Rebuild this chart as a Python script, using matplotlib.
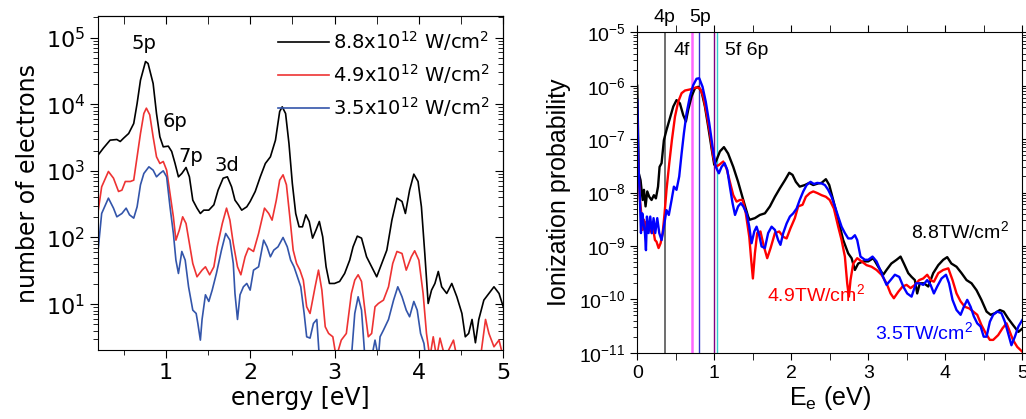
import numpy as np
import matplotlib
matplotlib.use("Agg")
import matplotlib.pyplot as plt
from matplotlib.ticker import LogLocator, MultipleLocator, NullFormatter

# ---- left panel: measured electron spectra (energy in eV, log10 of counts) ----
e_88 = [0.20, 0.26, 0.34, 0.42, 0.46, 0.50, 0.56, 0.62, 0.66, 0.70, 0.76, 0.79, 0.85, 0.89,
        0.93, 0.97, 1.03, 1.07, 1.11, 1.15, 1.19, 1.24, 1.28, 1.32, 1.37, 1.41, 1.45, 1.51,
        1.57, 1.62, 1.68, 1.73, 1.78, 1.82, 1.86, 1.90, 1.96, 2.00, 2.06, 2.12, 2.18, 2.24,
        2.30, 2.35, 2.38, 2.42, 2.46, 2.50, 2.54, 2.58, 2.62, 2.66, 2.70, 2.74, 2.78, 2.82,
        2.86, 2.90, 2.94, 3.00, 3.06, 3.12, 3.18, 3.22, 3.27, 3.32, 3.38, 3.44, 3.50, 3.56,
        3.62, 3.68, 3.74, 3.80, 3.84, 3.89, 3.94, 3.99, 4.03, 4.07, 4.11, 4.15, 4.19, 4.23,
        4.27, 4.33, 4.39, 4.45, 4.51, 4.55, 4.59, 4.63, 4.67, 4.71, 4.77, 4.83, 4.89, 4.95, 5.00]
n_88 = [3.24, 3.34, 3.46, 3.47, 3.44, 3.49, 3.56, 3.71, 4.01, 4.36, 4.64, 4.61, 4.31, 3.86,
        3.51, 3.36, 3.37, 3.29, 3.11, 2.91, 2.96, 3.05, 2.91, 2.56, 2.44, 2.36, 2.41, 2.41,
        2.49, 2.71, 2.89, 2.91, 2.76, 2.56, 2.49, 2.41, 2.46, 2.54, 2.69, 2.91, 3.11, 3.21,
        3.46, 3.89, 3.96, 3.86, 3.41, 2.81, 2.36, 2.16, 2.16, 2.34, 2.24, 1.99, 2.11, 2.24,
        2.01, 1.56, 1.31, 1.31, 1.34, 1.46, 1.66, 1.86, 2.02, 1.99, 1.71, 1.56, 1.41, 1.61,
        1.81, 2.26, 2.59, 2.54, 2.36, 2.71, 2.95, 2.84, 2.46, 1.76, 1.01, 1.21, 1.31, 1.49,
        1.26, 1.16, 1.31, 1.11, 0.86, 0.51, 0.56, 0.77, 0.42, 0.77, 1.06, 1.16, 1.26, 1.16, 0.96]

e_49 = [0.20, 0.24, 0.32, 0.38, 0.44, 0.48, 0.52, 0.58, 0.62, 0.66, 0.70, 0.74, 0.77, 0.81,
        0.85, 0.89, 0.93, 0.97, 1.01, 1.05, 1.09, 1.12, 1.16, 1.20, 1.24, 1.28, 1.32, 1.37,
        1.43, 1.47, 1.52, 1.57, 1.61, 1.67, 1.72, 1.76, 1.80, 1.85, 1.89, 1.94, 1.98, 2.04,
        2.10, 2.17, 2.22, 2.26, 2.31, 2.35, 2.39, 2.43, 2.47, 2.51, 2.55, 2.59, 2.63, 2.67,
        2.71, 2.77, 2.81, 2.85, 2.89, 2.93, 2.98, 3.02, 3.08, 3.14, 3.20, 3.24, 3.28, 3.32,
        3.36, 3.40, 3.44, 3.48, 3.52, 3.58, 3.64, 3.69, 3.74, 3.80, 3.85, 3.91, 3.95, 4.00,
        4.05, 4.09, 4.13, 4.17, 4.21, 4.25, 4.31, 4.41, 4.45, 4.73, 4.79, 4.83, 4.89, 4.95, 5.00]
n_49 = [2.41, 2.76, 2.99, 2.89, 2.69, 2.71, 2.84, 2.84, 2.86, 3.21, 3.56, 3.86, 3.94, 3.84,
        3.51, 3.21, 3.11, 3.14, 3.01, 2.66, 2.31, 1.96, 2.11, 2.31, 2.21, 1.91, 1.61, 1.41,
        1.51, 1.56, 1.44, 1.56, 1.86, 2.21, 2.44, 2.26, 1.91, 1.56, 1.44, 1.71, 1.84, 1.79,
        2.06, 2.44, 2.36, 2.26, 2.56, 2.86, 2.94, 2.79, 2.31, 1.81, 1.61, 1.51, 1.36, 0.96,
        0.86, 1.26, 1.51, 1.21, 0.66, 0.56, 0.51, 0.20, 0.46, 0.56, 1.16, 1.36, 1.44, 1.34,
        0.91, 0.51, 0.56, 0.96, 1.01, 1.06, 1.26, 1.61, 1.79, 1.76, 1.51, 1.71, 1.80, 1.66,
        1.16, 0.56, 0.20, 0.51, 0.20, 0.49, 0.20, 0.46, 0.20, 0.20, 0.77, 0.56, 0.36, 0.46, 0.20]

e_35 = [0.20, 0.24, 0.32, 0.38, 0.42, 0.48, 0.53, 0.57, 0.62, 0.66, 0.70, 0.74, 0.80, 0.85,
        0.89, 0.93, 0.97, 1.01, 1.05, 1.09, 1.12, 1.15, 1.19, 1.23, 1.27, 1.32, 1.36, 1.38,
        1.41, 1.43, 1.47, 1.51, 1.55, 1.60, 1.66, 1.71, 1.76, 1.80, 1.82, 1.85, 1.88, 1.92,
        1.96, 2.00, 2.04, 2.10, 2.16, 2.20, 2.24, 2.28, 2.33, 2.39, 2.44, 2.48, 2.52, 2.56,
        2.60, 2.64, 2.67, 2.71, 2.75, 2.79, 2.82, 3.20, 3.24, 3.28, 3.32, 3.36, 3.44, 3.48,
        3.52, 3.54, 3.58, 3.64, 3.70, 3.75, 3.80, 3.85, 3.89, 3.94, 3.98, 4.02, 4.06, 4.09, 5.00]
n_35 = [1.84, 2.36, 2.59, 2.44, 2.31, 2.36, 2.44, 2.34, 2.29, 2.46, 2.79, 2.96, 3.06, 3.01,
        2.91, 2.96, 3.00, 2.91, 2.46, 2.06, 1.66, 1.46, 1.79, 1.66, 1.26, 0.91, 0.86, 0.71,
        0.46, 0.77, 1.14, 1.04, 1.21, 1.46, 1.81, 2.06, 1.96, 1.61, 1.16, 0.77, 1.14, 1.26,
        1.31, 1.21, 1.51, 1.56, 1.96, 1.86, 1.71, 1.81, 1.86, 2.00, 1.86, 1.66, 1.56, 1.41,
        1.26, 0.86, 0.51, 0.49, 0.71, 0.77, 0.20, 0.20, 0.86, 1.11, 0.91, 0.20, 0.20, 0.46,
        0.20, 0.51, 0.61, 0.77, 1.06, 1.26, 1.11, 0.91, 0.81, 1.04, 0.91, 0.56, 0.41, 0.10, 0.10]

# ---- right panel: calculated ionization probability (log10) ----
eb = [0.0, 0.02, 0.043, 0.07, 0.087, 0.108, 0.13, 0.156, 0.186, 0.216, 0.242, 0.27, 0.29,
      0.316, 0.346, 0.38, 0.424, 0.468, 0.51, 0.554, 0.597, 0.632, 0.662, 0.706, 0.749, 0.792,
      0.835, 0.879, 0.922, 0.965, 1.0, 1.03, 1.074, 1.126, 1.18, 1.247, 1.31, 1.377, 1.44,
      1.46, 1.528, 1.593, 1.658, 1.723, 1.788, 1.853, 1.918, 1.974, 2.017, 2.06, 2.11, 2.177,
      2.234, 2.286, 2.35, 2.394, 2.45, 2.494, 2.545, 2.589, 2.632, 2.675, 2.74, 2.784, 2.827,
      2.87, 2.935, 3.0, 3.065, 3.13, 3.195, 3.238, 3.30, 3.368, 3.42, 3.463, 3.52, 3.563,
      3.606, 3.636, 3.67, 3.723, 3.78, 3.844, 3.91, 3.974, 4.026, 4.08, 4.147, 4.212, 4.277,
      4.342, 4.407, 4.47, 4.537, 4.59, 4.645, 4.71, 4.76, 4.818, 4.88, 4.95, 5.0]
pb = [-6.0, -7.64, -7.77, -8.14, -7.95, -8.26, -7.98, -8.08, -8.14, -8.05, -8.11, -7.89, -7.52,
      -7.45, -7.02, -6.83, -6.61, -6.39, -6.27, -6.33, -6.55, -6.67, -6.45, -6.20, -6.05, -6.02,
      -6.11, -6.39, -6.77, -7.17, -7.48, -7.39, -7.23, -7.15, -7.27, -7.52, -7.80, -8.14, -8.45,
      -8.51, -8.48, -8.42, -8.39, -8.26, -8.08, -7.92, -7.77, -7.63, -7.67, -7.80, -7.89, -7.86,
      -7.82, -7.86, -7.83, -7.82, -7.75, -7.86, -8.14, -8.39, -8.64, -8.89, -9.14, -9.23, -9.45,
      -9.33, -9.29, -9.29, -9.23, -9.39, -9.54, -9.45, -9.33, -9.26, -9.20, -9.33, -9.51, -9.58,
      -9.64, -9.89, -9.70, -9.70, -9.76, -9.51, -9.36, -9.26, -9.21, -9.33, -9.39, -9.51, -9.64,
      -9.70, -9.83, -10.01, -10.23, -10.29, -10.26, -10.20, -10.23, -10.36, -10.48, -10.61, -10.55]

er = [0.0, 0.013, 0.035, 0.056, 0.07, 0.087, 0.104, 0.12, 0.143, 0.165, 0.186, 0.208, 0.23,
      0.25, 0.277, 0.303, 0.33, 0.355, 0.38, 0.416, 0.45, 0.49, 0.532, 0.576, 0.62, 0.684,
      0.727, 0.77, 0.814, 0.857, 0.9, 0.944, 0.987, 1.02, 1.065, 1.117, 1.16, 1.203, 1.247,
      1.29, 1.333, 1.37, 1.41, 1.455, 1.48, 1.502, 1.528, 1.558, 1.6, 1.645, 1.688, 1.732,
      1.788, 1.844, 1.896, 1.94, 1.99, 2.047, 2.09, 2.147, 2.19, 2.242, 2.286, 2.338, 2.394,
      2.45, 2.5, 2.554, 2.61, 2.654, 2.697, 2.727, 2.749, 2.77, 2.805, 2.857, 2.913, 2.978,
      3.043, 3.108, 3.173, 3.238, 3.29, 3.333, 3.39, 3.446, 3.498, 3.55, 3.606, 3.662, 3.714,
      3.766, 3.81, 3.853, 3.91, 3.974, 4.04, 4.095, 4.147, 4.2, 4.255, 4.312, 4.364, 4.416,
      4.47, 4.528, 4.58, 4.623, 4.688, 4.745, 4.797, 4.84, 4.88, 4.935, 5.0]
pr = [-6.70, -7.52, -8.14, -8.45, -8.70, -8.51, -8.70, -8.55, -8.70, -8.64, -8.76, -8.70, -8.89,
      -8.92, -9.04, -8.95, -8.76, -8.39, -7.95, -7.45, -7.02, -6.58, -6.30, -6.14, -6.09, -6.07,
      -6.05, -6.03, -6.05, -6.20, -6.52, -6.89, -7.33, -7.52, -7.48, -7.42, -7.55, -7.80, -8.05,
      -8.17, -8.14, -8.14, -8.39, -8.83, -9.26, -9.61, -9.14, -8.76, -8.73, -9.01, -9.23, -9.04,
      -8.76, -8.73, -8.83, -8.86, -8.67, -8.48, -8.26, -8.23, -8.08, -8.01, -7.98, -8.01, -8.05,
      -8.08, -8.14, -8.30, -8.64, -8.89, -9.20, -9.70, -9.95, -9.64, -9.33, -9.23, -9.29, -9.36,
      -9.39, -9.45, -9.54, -9.70, -9.89, -9.98, -9.86, -9.76, -9.73, -9.79, -9.73, -9.64, -9.61,
      -9.54, -9.64, -9.67, -9.51, -9.45, -9.42, -9.64, -9.89, -10.04, -10.14, -10.17, -10.23, -10.29,
      -10.48, -10.64, -10.76, -10.76, -10.67, -10.54, -10.45, -10.61, -10.76, -10.89, -10.98]

eu = [0.0, 0.013, 0.035, 0.048, 0.065, 0.082, 0.1, 0.113, 0.126, 0.147, 0.169, 0.19, 0.212,
      0.234, 0.26, 0.286, 0.316, 0.346, 0.38, 0.41, 0.446, 0.476, 0.51, 0.545, 0.576, 0.606,
      0.64, 0.684, 0.727, 0.77, 0.805, 0.848, 0.89, 0.935, 0.978, 1.02, 1.06, 1.095, 1.134,
      1.17, 1.203, 1.238, 1.27, 1.31, 1.346, 1.377, 1.42, 1.455, 1.485, 1.52, 1.55, 1.584,
      1.615, 1.658, 1.7, 1.745, 1.788, 1.83, 1.86, 1.896, 1.94, 1.983, 2.026, 2.07, 2.11,
      2.156, 2.2, 2.251, 2.294, 2.338, 2.394, 2.437, 2.48, 2.524, 2.567, 2.61, 2.654, 2.697,
      2.74, 2.784, 2.827, 2.857, 2.9, 2.957, 3.0, 3.056, 3.108, 3.173, 3.238, 3.29, 3.346,
      3.403, 3.455, 3.506, 3.563, 3.62, 3.67, 3.714, 3.766, 3.81, 3.853, 3.896, 3.952, 4.01,
      4.05, 4.095, 4.147, 4.2, 4.242, 4.286, 4.33, 4.372, 4.416, 4.46, 4.5, 4.537, 4.58,
      4.623, 4.675, 4.73, 4.775, 4.818, 4.86, 4.905, 4.95, 5.0]
pu = [-6.27, -7.39, -8.14, -8.76, -8.39, -8.58, -8.76, -9.08, -8.45, -8.76, -8.45, -8.76, -8.48,
      -8.76, -8.48, -8.76, -8.89, -8.64, -8.33, -8.42, -8.14, -7.89, -7.95, -7.70, -7.27, -6.89,
      -6.52, -6.20, -5.99, -5.87, -5.86, -6.02, -6.30, -6.70, -7.14, -7.52, -7.64, -7.52, -7.45,
      -7.58, -7.89, -8.20, -8.42, -8.26, -8.20, -8.26, -8.39, -8.64, -8.95, -8.73, -8.64, -8.80,
      -9.01, -9.04, -8.76, -8.64, -8.70, -8.89, -8.98, -8.76, -8.58, -8.45, -8.39, -8.30, -8.14,
      -7.98, -7.86, -7.80, -7.84, -7.82, -7.83, -7.86, -7.95, -8.08, -8.26, -8.45, -8.64, -8.76,
      -8.86, -8.86, -8.80, -8.89, -9.20, -9.26, -9.26, -9.20, -9.29, -9.51, -9.73, -9.64, -9.54,
      -9.58, -9.76, -9.89, -9.95, -9.70, -9.70, -9.73, -9.64, -9.73, -9.89, -9.76, -9.61, -9.54,
      -9.70, -10.01, -10.20, -10.29, -10.14, -10.01, -10.14, -10.32, -10.45, -10.51, -10.70, -10.70, -10.42,
      -10.29, -10.23, -10.26, -10.42, -10.64, -10.86, -10.70, -10.51, -10.39]

# state energies marked in the right panel
level_e = [0.36, 0.706, 0.797, 1.0, 1.04]
level_c = ['#555555', '#ff66ff', '#3333cc', '#800080', '#33cccc']
level_w = [1.2, 1.8, 1.0, 1.0, 1.0]

fig = plt.figure(figsize=(10.26, 4.19), dpi=100)

# ================= left panel =================
ax1 = fig.add_axes([0.0958, 0.1647, 0.3947, 0.797])
ax1.plot(e_88, 10 ** np.array(n_88), color='black', lw=1.2, label='8.8x10$^{12}$ W/cm$^2$')
ax1.plot(e_49, 10 ** np.array(n_49), color='#ee3333', lw=1.2, label='4.9x10$^{12}$ W/cm$^2$')
ax1.plot(e_35, 10 ** np.array(n_35), color='#3355aa', lw=1.2, label='3.5x10$^{12}$ W/cm$^2$')
ax1.set_yscale('log')
ax1.set_xlim(0.2, 5)
ax1.set_ylim(2.05, 2.1e5)
ax1.xaxis.set_major_locator(MultipleLocator(1))
ax1.xaxis.set_minor_locator(MultipleLocator(0.5))
ax1.yaxis.set_major_locator(LogLocator(base=10, numticks=10))
ax1.yaxis.set_minor_locator(LogLocator(base=10, subs=np.arange(2, 10), numticks=10))
ax1.yaxis.set_minor_formatter(NullFormatter())
ax1.set_yticks([1e1, 1e2, 1e3, 1e4, 1e5])
ax1.tick_params(which='both', direction='out', top=False, right=False, labelsize=16)
ax1.tick_params(which='major', length=6)
ax1.tick_params(which='minor', length=3.5)
ax1r = ax1.secondary_yaxis('right')
ax1r.set_yticks([1e1, 1e2, 1e3, 1e4, 1e5])
ax1r.yaxis.set_minor_locator(LogLocator(base=10, subs=np.arange(2, 10), numticks=10))
ax1r.tick_params(which='both', direction='in', labelright=False)
ax1r.tick_params(which='major', length=6)
ax1r.tick_params(which='minor', length=3.5)
ax1t = ax1.secondary_xaxis('top')
ax1t.xaxis.set_major_locator(MultipleLocator(1))
ax1t.xaxis.set_minor_locator(MultipleLocator(0.5))
ax1t.tick_params(which='both', direction='in', labeltop=False)
ax1t.tick_params(which='major', length=6)
ax1t.tick_params(which='minor', length=6)
ax1.set_xlabel('energy [eV]', fontsize=17, labelpad=2)
ax1.set_ylabel('number of electrons', fontsize=17, labelpad=4)

ax1.text(0.74, 8.1e4, '5p', fontsize=14, ha='center', va='center')
ax1.text(1.11, 5.5e3, '6p', fontsize=14, ha='center', va='center')
ax1.text(1.30, 1.65e3, '7p', fontsize=14, ha='center', va='center')
ax1.text(1.73, 1.2e3, '3d', fontsize=14, ha='center', va='center')

ax1.legend(loc='upper right', bbox_to_anchor=(0.995, 0.995), frameon=False, fontsize=14,
           handlelength=2.6, handletextpad=0.2, labelspacing=0.45, borderaxespad=0.2)

# ================= right panel =================
rfont = 'Liberation Sans'
ax2 = fig.add_axes([0.6211, 0.1582, 0.3752, 0.7647])
for x, c, w in zip(level_e, level_c, level_w):
    ax2.axvline(x, color=c, lw=w)
ax2.plot(eb, 10 ** np.array(pb), color='black', lw=1.7)
ax2.plot(er, 10 ** np.array(pr), color='#ff0000', lw=1.7)
ax2.plot(eu, 10 ** np.array(pu), color='#0000ff', lw=1.7)
ax2.set_yscale('log')
ax2.set_xlim(0, 5)
ax2.set_ylim(1e-11, 1e-5)
ax2.xaxis.set_major_locator(MultipleLocator(1))
ax2.xaxis.set_minor_locator(MultipleLocator(0.5))
ax2.yaxis.set_major_locator(LogLocator(base=10, numticks=10))
ax2.yaxis.set_minor_locator(LogLocator(base=10, subs=np.arange(2, 10), numticks=10))
ax2.yaxis.set_minor_formatter(NullFormatter())
ax2.tick_params(which='both', direction='out', top=True, right=True, labelsize=14,
                labelfontfamily=rfont)
ax2.tick_params(which='major', length=5)
ax2.tick_params(which='minor', length=3)
ax2.tick_params(axis='x', which='minor', length=5)
ax2.set_xlabel('E$_\\mathregular{e}$ (eV)', fontsize=18, family=rfont, labelpad=2)
ax2.set_ylabel('Ionization probability', fontsize=18, family=rfont, labelpad=6)

ax2.text(0.35, 10 ** -4.73, '4p', fontsize=14, family=rfont, ha='center', va='center', clip_on=False)
ax2.text(0.815, 10 ** -4.73, '5p', fontsize=14, family=rfont, ha='center', va='center', clip_on=False)
ax2.text(0.58, 10 ** -5.34, '4f', fontsize=14, family=rfont, ha='center', va='center')
ax2.text(1.42, 10 ** -5.34, '5f 6p', fontsize=14, family=rfont, ha='center', va='center')
ax2.text(4.19, 10 ** -8.73, '8.8TW/cm$^\\mathregular{2}$', fontsize=14, family=rfont,
         color='black', ha='center', va='center')
ax2.text(2.32, 10 ** -9.92, '4.9TW/cm$^\\mathregular{2}$', fontsize=14, family=rfont,
         color='#ff0000', ha='center', va='center')
ax2.text(3.72, 10 ** -10.63, '3.5TW/cm$^\\mathregular{2}$', fontsize=14, family=rfont,
         color='#0000ff', ha='center', va='center')

fig.savefig('out.png', dpi=100)
